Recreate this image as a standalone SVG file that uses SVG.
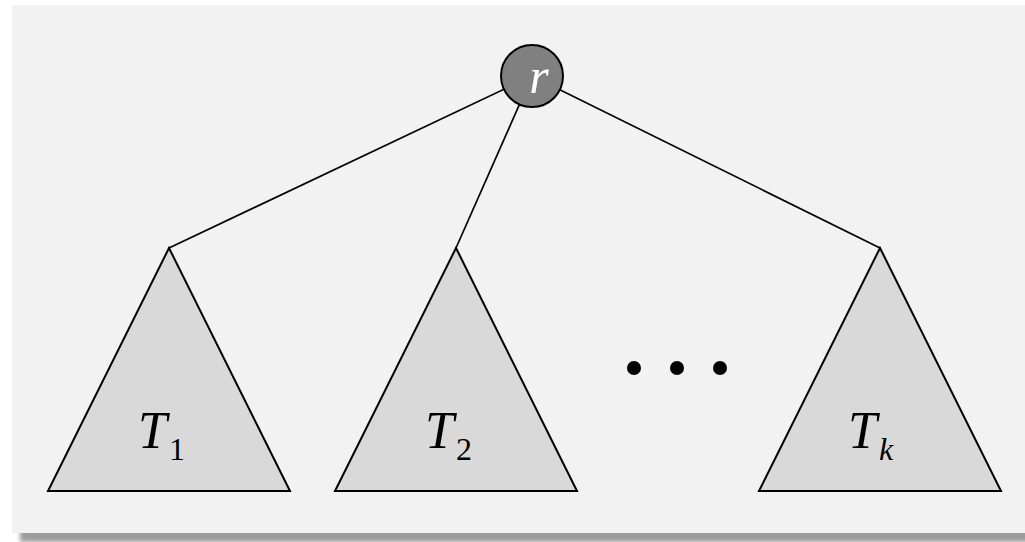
<svg xmlns="http://www.w3.org/2000/svg" width="1025" height="542" viewBox="0 0 1025 542">
<defs>
<filter id="blur" x="-5%" y="-5%" width="110%" height="120%"><feGaussianBlur stdDeviation="2"/></filter>
<style>
.tri{fill:#d9d9d9;stroke:#000;stroke-width:2;stroke-linejoin:miter}
.edge{stroke:#000;stroke-width:1.7;fill:none}
.lbl{font-family:"Liberation Serif","DejaVu Serif",serif;font-style:italic;fill:#000}
.sub{font-family:"Liberation Serif","DejaVu Serif",serif;fill:#000}
</style>
</defs>
<rect x="20" y="13" width="1020" height="529" fill="#9c9c9c" filter="url(#blur)"/>
<rect x="12" y="5" width="1020" height="528" fill="#f2f2f2"/>
<g id="connectors">
<line class="edge" x1="532" y1="76" x2="169" y2="248"/>
<line class="edge" x1="532" y1="76" x2="456" y2="248"/>
<line class="edge" x1="532" y1="76" x2="880" y2="248"/>
</g>
<g id="T1">
<polygon class="tri" points="169,248 290,491 48,491"/>
<text class="lbl" x="138" y="448" font-size="52">T</text>
<text class="sub" x="169" y="460" font-size="32">1</text>
</g>
<g id="T2">
<polygon class="tri" points="456,248 577,491 335,491"/>
<text class="lbl" x="425" y="448" font-size="52">T</text>
<text class="sub" x="456" y="460" font-size="32">2</text>
</g>
<g id="Tk">
<polygon class="tri" points="880,248 1001,491 759,491"/>
<text class="lbl" x="848" y="448" font-size="52">T</text>
<text class="lbl" x="879" y="460" font-size="32">k</text>
</g>
<g id="dots">
<circle cx="634" cy="368" r="7" fill="#000"/>
<circle cx="677" cy="368" r="7" fill="#000"/>
<circle cx="720" cy="368" r="7" fill="#000"/>
</g>
<g id="r">
<circle cx="532" cy="76" r="31" fill="#808080" stroke="#000" stroke-width="2"/>
<text class="lbl" x="539" y="93" font-size="50" fill="#fff" style="fill:#fff" text-anchor="middle">r</text>
</g>
</svg>
